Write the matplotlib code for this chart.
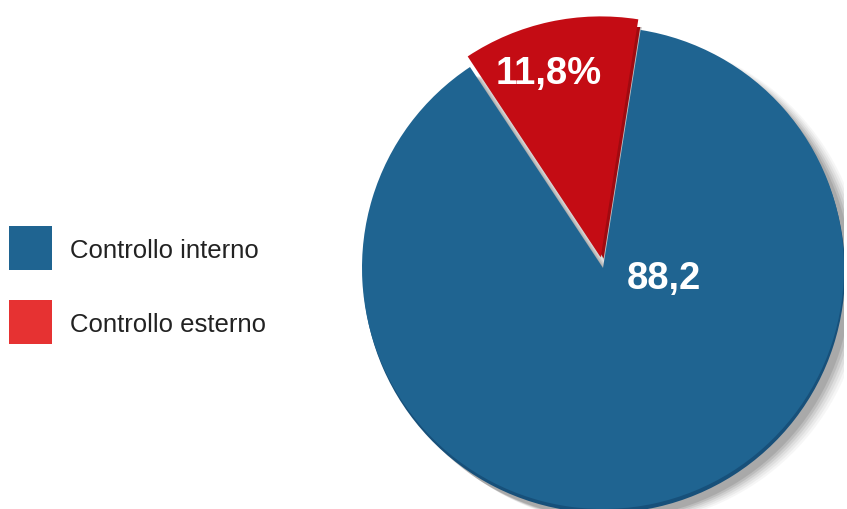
import matplotlib
matplotlib.use('Agg')
import matplotlib.pyplot as plt
from matplotlib.patches import Wedge, Rectangle

# data
labels = ['Controllo interno', 'Controllo esterno']
values = [88.2, 11.8]
pie_colors = ['#1f6491', '#c40c14']
legend_colors = ['#1f6491', '#e63232']
value_texts = ['88,2', '11,8%']

plt.rcParams['font.family'] = ['Liberation Sans', 'DejaVu Sans']

W, H = 847, 509
fig = plt.figure(figsize=(W / 100, H / 100), dpi=100)

# pie centre and radius in pixels
cx, cy, r = 603, 241, 241
ax = fig.add_axes([(cx - r) / W, (cy - r) / H, 2 * r / W, 2 * r / H])
ax.axis('off')

px = 1 / r  # one pixel in data units

start = 123.5
explode = [0, 0.045]
wedges, _ = ax.pie(values, colors=pie_colors, startangle=start,
                   explode=explode, radius=1, center=(0, 0), frame=True,
                   wedgeprops=dict(lw=0))
for w in wedges:
    w.set_zorder(3)

blue = wedges[0]
# soft shadow under the pie (bottom right)
for i, a in enumerate([0.05, 0.07, 0.09, 0.12, 0.16, 0.2]):
    grow = (11 - 2 * i) * px
    ax.add_patch(Wedge((6 * px + grow, -9 * px - grow * 0.3), 1 + grow * 0.3,
                       blue.theta1, blue.theta2,
                       color='#606060', alpha=a, lw=0, zorder=0))
# 3D rim
ax.add_patch(Wedge((1 * px, -4 * px), 1, blue.theta1 + 1, blue.theta2,
                   color='#17507a', lw=0, zorder=1))

# side and shadow of the exploded slice
red = wedges[1]
t1, t2 = red.theta1, red.theta2
ccx, ccy = red.center
ax.add_patch(Wedge((ccx + 4 * px, ccy - 4 * px), 1, t1, t2,
                   color='#c4c4c4', lw=0, zorder=2.8))
ax.add_patch(Wedge((ccx + 3 * px, ccy - 1 * px), 1, t1, t2,
                   color='#a00a10', lw=0, zorder=2.9))

ax.set_xlim(-1, 1)
ax.set_ylim(-1, 1)
ax.set_aspect('auto')

ax.text(0.253, -0.047, value_texts[0], color='white', fontsize=27.5,
        fontweight='bold', ha='center', va='center', zorder=5)
ax.text(-0.224, 0.803, value_texts[1], color='white', fontsize=27.5,
        fontweight='bold', ha='center', va='center', zorder=5)

# legend drawn by hand: square swatches and labels
rows_y = [248, 322]
for lab, col, yc in zip(labels, legend_colors, rows_y):
    fig.patches.append(Rectangle((9 / W, 1 - (yc + 22) / H), 43 / W, 44 / H,
                                 transform=fig.transFigure, color=col, lw=0))
    fig.text(70 / W, 1 - (yc + 3) / H, lab, fontsize=18.5, color='#222222',
             ha='left', va='center')

fig.savefig('out.png', dpi=100)
